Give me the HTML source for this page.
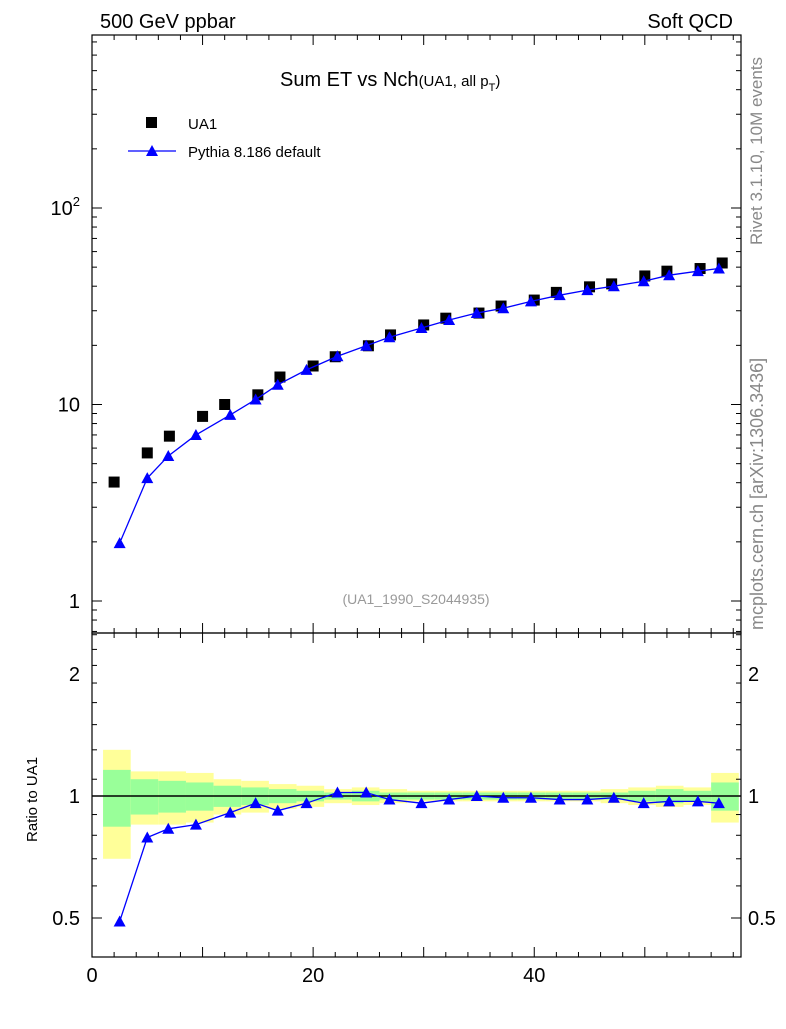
<!DOCTYPE html>
<html><head><meta charset="utf-8"><style>
body{margin:0;background:#fff;width:786px;height:1024px;overflow:hidden}
svg{font-family:"Liberation Sans",sans-serif}
</style></head><body>
<svg id="c" width="786" height="1024">
<text x="100" y="28" font-size="20">500 GeV ppbar</text>
<text x="733" y="28" font-size="20" text-anchor="end">Soft QCD</text>
<text x="280" y="86" font-size="20">Sum ET vs Nch<tspan font-size="15">(UA1, all p</tspan><tspan font-size="11" dy="5">T</tspan><tspan font-size="15" dy="-5">)</tspan></text>
<text transform="translate(762,245) rotate(-90)" font-size="17" fill="#888">Rivet 3.1.10,  10M events</text>
<text transform="translate(763,630) rotate(-90)" font-size="18" fill="#888">mcplots.cern.ch [arXiv:1306.3436]</text>
<text x="416" y="604" font-size="14" fill="#999" text-anchor="middle">(UA1_1990_S2044935)</text>
<rect x="146" y="117" width="11" height="11" fill="#000"/>
<text x="188" y="129" font-size="15">UA1</text>
<line x1="128" y1="151" x2="176" y2="151" stroke="#00f" stroke-width="1.3"/>
<polygon points="146,156 158,156 152,145" fill="#00f"/>
<text x="188" y="157" font-size="15">Pythia 8.186 default</text>
<text transform="translate(37,842) rotate(-90)" font-size="15">Ratio to UA1</text>
</svg>
<script>
const xData=[2,5,7,10,12,15,17,20,22,25,27,30,32,35,37,40,42,45,47,50,52,55,57];
const yData=[4.03,5.67,6.9,8.7,10.0,11.2,13.8,15.7,17.5,19.9,22.6,25.4,27.5,29.2,31.7,34,37.2,39.7,41.1,45.1,47.7,49.2,52.5];
const xMC=[2.5,5,6.9,9.4,12.5,14.8,16.8,19.4,22.2,24.8,26.9,29.8,32.3,34.8,37.2,39.7,42.3,44.8,47.2,49.9,52.2,54.8,56.7];
const yMC=[1.97,4.22,5.47,7.0,8.85,10.6,12.6,15.0,17.6,19.9,22.0,24.5,26.9,29.2,30.9,33.5,36.0,38.2,40.0,42.4,45.5,47.7,49.2];
const ratioMC=[0.49,0.79,0.83,0.85,0.91,0.96,0.92,0.96,1.02,1.02,0.98,0.96,0.98,1.0,0.99,0.99,0.98,0.98,0.99,0.96,0.97,0.97,0.96];
const errYellow=[0.3,0.15,0.15,0.14,0.1,0.09,0.07,0.06,0.04,0.05,0.04,0.03,0.03,0.03,0.03,0.03,0.03,0.03,0.04,0.05,0.06,0.05,0.14];
const errGreen=[0.16,0.1,0.09,0.08,0.06,0.05,0.04,0.03,0.02,0.03,0.02,0.02,0.02,0.02,0.02,0.02,0.02,0.02,0.02,0.03,0.04,0.03,0.08];
const xTickLabels=[0,20,40];
const yTickLabels=["1","10","10²"];
const rTickLabels=[0.5,1,2];

const NS="http://www.w3.org/2000/svg",svg=document.getElementById('c');
const L=92,R=741,T=35,B=633,RB=957;
const X=v=>L+(v-0)*(R-L)/58.7;
const Y=v=>601-Math.log10(v)*196.5;
const RY=v=>796-Math.log2(v)*122;
function mk(t,a,p){const e=document.createElementNS(NS,t);for(const k in a)e.setAttribute(k,a[k]);(p||svg).appendChild(e);return e;}
const g=mk('g',{});
for(let i=0;i<xData.length;i++){
 const x0=i==0?1:(xData[i-1]+xData[i])/2, x1=i==xData.length-1?58.5:(xData[i]+xData[i+1])/2;
 const by=mk('rect',{x:X(x0),y:RY(1+errYellow[i]),width:X(x1)-X(x0),height:RY(1-errYellow[i])-RY(1+errYellow[i]),fill:'#ffff99'},g);
 
 
 const bg=mk('rect',{x:X(x0),y:RY(1+errGreen[i]),width:X(x1)-X(x0),height:RY(1-errGreen[i])-RY(1+errGreen[i]),fill:'#99ff99'},g);
 
 
}
const one=mk('line',{x1:L,x2:R,y1:RY(1),y2:RY(1),stroke:'#000','stroke-width':1.5});


const f1=mk('rect',{x:L,y:T,width:R-L,height:B-T,fill:'none',stroke:'#000','stroke-width':1.2});


const f2=mk('rect',{x:L,y:B,width:R-L,height:RB-B,fill:'none',stroke:'#000','stroke-width':1.2});


for(let v=0;v<=58;v+=2){const len=v%10==0?10:5;
 for(const [y0,y1] of [[B,T],[RB,B]]){mk('line',{x1:X(v),x2:X(v),y1:y0,y2:y0-len,stroke:'#000'});mk('line',{x1:X(v),x2:X(v),y1:y1,y2:y1+len,stroke:'#000'});}}
xTickLabels.forEach(v=>{const t=mk('text',{x:X(v),y:982,'font-size':20,'text-anchor':'middle'});t.textContent=v;
 
 });
for(let d=-1;d<=2;d++)for(let m=1;m<10;m++){const v=m*Math.pow(10,d);const y=Y(v);if(y<T||y>B)continue;const len=m==1?10:5;
 mk('line',{x1:L,x2:L+len,y1:y,y2:y,stroke:'#000'});mk('line',{x1:R,x2:R-len,y1:y,y2:y,stroke:'#000'});}
[1,10,100].forEach((v,i)=>{const t=mk('text',{x:80,y:Y(v)+7,'font-size':20,'text-anchor':'end'});
 if(i==2){t.innerHTML='10<tspan font-size="13" dy="-9">2</tspan>';}else t.textContent=yTickLabels[i];
 
 });
for(let v=0.4;v<=2.5;v+=(v<1?0.1:0.2)){const y=RY(v);if(y<B||y>RB)continue;const major=rTickLabels.some(r=>Math.abs(r-v)<1e-6);const len=major?10:5;
 mk('line',{x1:L,x2:L+len,y1:y,y2:y,stroke:'#000'});mk('line',{x1:R,x2:R-len,y1:y,y2:y,stroke:'#000'});}
rTickLabels.forEach(v=>{for(const [x,a] of [[80,'end'],[748,'start']]){const t=mk('text',{x:x,y:RY(v)+7,'font-size':20,'text-anchor':a});t.textContent=v;
 
 }});
xData.forEach((x,i)=>{const r=mk('rect',{x:X(x)-5.5,y:Y(yData[i])-5.5,width:11,height:11,fill:'#000'});
 
 });
const tri=(x,y)=>`${x-6},${y+5} ${x+6},${y+5} ${x},${y-6}`;
const l1=mk('polyline',{points:xMC.map((x,i)=>X(x)+','+Y(yMC[i])).join(' '),fill:'none',stroke:'#00f','stroke-width':1.3});


xMC.forEach((x,i)=>{const p=mk('polygon',{points:tri(X(x),Y(yMC[i])),fill:'#00f'});
 
 });
const l2=mk('polyline',{points:xMC.map((x,i)=>X(x)+','+RY(ratioMC[i])).join(' '),fill:'none',stroke:'#00f','stroke-width':1.3});


xMC.forEach((x,i)=>{const p=mk('polygon',{points:tri(X(x),RY(ratioMC[i])),fill:'#00f'});
 
 });
</script>
</body></html>
